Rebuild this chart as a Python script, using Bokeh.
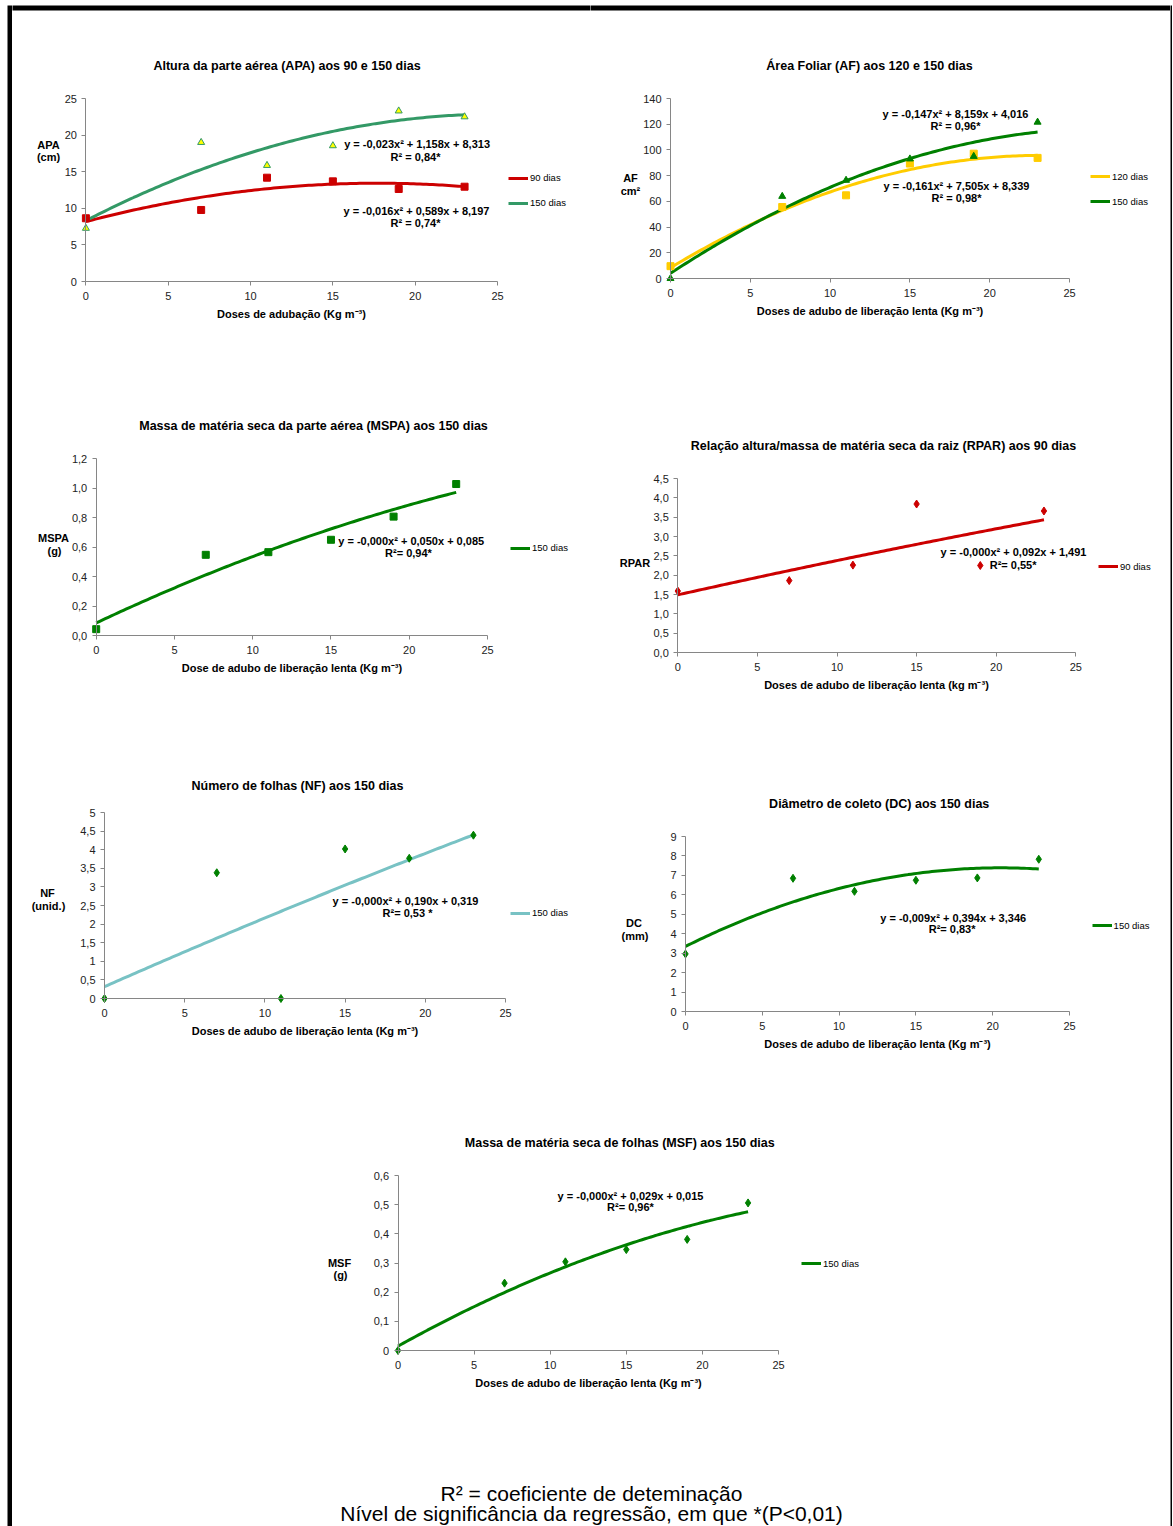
import numpy as np
from bokeh.plotting import figure
from bokeh.models import Range1d, FixedTicker, Label, Legend, LegendItem, Spacer, BoxAnnotation
from bokeh.layouts import row, column
from bokeh.embed import file_html
from bokeh.resources import INLINE

FONT = "Liberation Sans"

# ------------------------------------------------------------------ data
doses = [0, 7, 11, 15, 19, 23]
x_ticks = [0, 5, 10, 15, 20, 25]
x_tick_labels = ["0", "5", "10", "15", "20", "25"]

# Altura da parte aérea (APA)
apa_yticks = [0, 5, 10, 15, 20, 25]
apa_ylabels = ["0", "5", "10", "15", "20", "25"]
apa_90 = [8.64, 9.77, 14.18, 13.68, 12.64, 12.95]
apa_150 = [7.27, 19.00, 15.86, 18.55, 23.30, 22.50]
apa_90_coef = [-0.0167, 0.592, 8.18]
apa_150_coef = [-0.023, 1.158, 8.313]

# Área foliar (AF)
af_yticks = [0, 20, 40, 60, 80, 100, 120, 140]
af_ylabels = ["0", "20", "40", "60", "80", "100", "120", "140"]
af_120 = [9.6, 55.6, 64.7, 89.4, 97.1, 93.8]
af_150 = [0.0, 63.9, 76.4, 93.0, 95.0, 121.6]
af_120_coef = [-0.161, 7.505, 8.339]
af_150_coef = [-0.147, 8.159, 4.016]

# Massa de matéria seca da parte aérea (MSPA)
mspa_yticks = [0.0, 0.2, 0.4, 0.6, 0.8, 1.0, 1.2]
mspa_ylabels = ["0,0", "0,2", "0,4", "0,6", "0,8", "1,0", "1,2"]
mspa_150 = [0.043, 0.547, 0.565, 0.649, 0.806, 1.027]
mspa_coef = [-0.0005, 0.050, 0.085]

# Relação altura/massa seca da raiz (RPAR)
rpar_yticks = [0.0, 0.5, 1.0, 1.5, 2.0, 2.5, 3.0, 3.5, 4.0, 4.5]
rpar_ylabels = ["0,0", "0,5", "1,0", "1,5", "2,0", "2,5", "3,0", "3,5", "4,0", "4,5"]
rpar_90 = [1.59, 1.86, 2.26, 3.84, 2.25, 3.66]
rpar_coef = [-0.00033, 0.092, 1.491]

# Número de folhas (NF)
nf_yticks = [0.0, 0.5, 1.0, 1.5, 2.0, 2.5, 3.0, 3.5, 4.0, 4.5, 5.0]
nf_ylabels = ["0", "0,5", "1", "1,5", "2", "2,5", "3", "3,5", "4", "4,5", "5"]
nf_150 = [0.0, 3.38, 0.0, 4.02, 3.77, 4.39]
nf_coef = [-0.00055, 0.190, 0.319]

# Diâmetro de coleto (DC)
dc_yticks = [0, 1, 2, 3, 4, 5, 6, 7, 8, 9]
dc_ylabels = ["0", "1", "2", "3", "4", "5", "6", "7", "8", "9"]
dc_150 = [2.96, 6.85, 6.18, 6.75, 6.87, 7.83]
dc_coef = [-0.0096, 0.394, 3.346]

# Massa de matéria seca de folhas (MSF)
msf_yticks = [0.0, 0.1, 0.2, 0.3, 0.4, 0.5, 0.6]
msf_ylabels = ["0", "0,1", "0,2", "0,3", "0,4", "0,5", "0,6"]
msf_150 = [0.0, 0.231, 0.304, 0.346, 0.381, 0.506]
msf_coef = [-0.00039, 0.029, 0.015]

# ------------------------------------------------------------------ style
RED = "#CC0000"
TEAL = "#339966"
YELLOW = "#FFCC00"
GREEN = "#008000"
LTEAL = "#78C2C4"
AXIS = "#868686"

xs_fit = np.linspace(0, 23, 120)


def trend(coef):
    a, b, c = coef
    return a * xs_fit ** 2 + b * xs_fit + c


def panel(fig_left, fig_top, fig_w, fig_h, x0, x25, ytop, ybot, ymax,
          yticks, ylabels, xlabel, band=None):
    kx = (x25 - x0) / 25.0
    ky = (ybot - ytop) / float(ymax)
    xr = Range1d(-(x0 - fig_left) / kx, 25 + (fig_left + fig_w - x25) / kx)
    yr = Range1d(-(fig_top + fig_h - ybot) / ky, ymax + (ytop - fig_top) / ky)
    p = figure(width=fig_w, height=fig_h, x_range=xr, y_range=yr, min_border=0,
               toolbar_location=None, output_backend="svg")
    p.title.visible = False
    p.outline_line_color = None
    p.xgrid.visible = False
    p.ygrid.visible = False
    xa = p.xaxis[0]
    ya = p.yaxis[0]
    xa.fixed_location = 0
    ya.fixed_location = 0
    xa.bounds = (0, 25)
    ya.bounds = (0, ymax)
    xa.ticker = FixedTicker(ticks=x_ticks)
    ya.ticker = FixedTicker(ticks=yticks)
    xa.major_label_overrides = dict(zip(x_ticks, x_tick_labels))
    ya.major_label_overrides = dict(zip(yticks, ylabels))
    for ax in (xa, ya):
        ax.axis_line_color = AXIS
        ax.major_tick_line_color = AXIS
        ax.minor_tick_line_color = None
        ax.major_tick_out = 4
        ax.major_tick_in = 0
        ax.major_label_text_font = FONT
        ax.major_label_text_font_size = "11px"
        ax.major_label_text_color = "#222222"
    xa.major_label_standoff = 6
    ya.major_label_standoff = 5
    xa.axis_label = xlabel
    xa.axis_label_text_font = FONT
    xa.axis_label_text_font_size = "11px"
    xa.axis_label_text_font_style = "bold"
    xa.axis_label_text_color = "#000000"
    xa.axis_label_standoff = 5

    if band is not None:
        # black page border along the top edge of this figure
        ext_x = 3.0 / kx
        ext_y = 3.0 / ky
        p.add_layout(BoxAnnotation(left=xr.start - ext_x, right=xr.end + ext_x,
                                   top=yr.end + ext_y, bottom=(ybot - band) / ky,
                                   fill_color="black", fill_alpha=1.0,
                                   line_color=None))

    def conv(px, py):
        return (px - x0) / kx, (ybot - py) / ky

    return p, conv, fig_left, fig_top + fig_h


def put(p, conv, px, py, s, size="11px", bold=True):
    x, y = conv(px, py)
    p.add_layout(Label(x=x, y=y, text=s, text_align="center", text_baseline="middle",
                       text_font=FONT, text_font_size=size,
                       text_font_style="bold" if bold else "normal",
                       text_color="#000000"))


def legend(p, items, fl, fb, lx, centers):
    gh = 12
    spacing = 13
    bottom = centers[-1] + gh / 2.0
    leg = Legend(items=[LegendItem(label=l, renderers=[r]) for l, r in items],
                 location=(lx - fl, fb - bottom), orientation="vertical",
                 padding=0, margin=0, spacing=spacing,
                 glyph_width=20, glyph_height=gh, label_height=gh, label_standoff=2,
                 label_text_font=FONT, label_text_font_size="9.5px",
                 label_text_color="#000000",
                 border_line_color=None, background_fill_alpha=0)
    p.add_layout(leg)


XL = "Doses de adubo de liberação lenta (Kg m⁻³)"

# ---------------- Panel 1: APA
p1, c1, fl1, fb1 = panel(12, 5, 578, 365, 85.4, 497, 98, 281, 25,
                         apa_yticks, apa_ylabels, "Doses de adubação (Kg m⁻³)", band=10)
l1a = p1.line(xs_fit, trend(apa_90_coef), line_color=RED, line_width=3)
l1b = p1.line(xs_fit, trend(apa_150_coef), line_color=TEAL, line_width=3)
p1.scatter(doses, apa_90, marker="square", size=7, fill_color=RED, line_color=RED)
p1.scatter(doses, apa_150, marker="triangle", size=7, fill_color="#FFFF00", line_color=TEAL)
put(p1, c1, 286.5, 65, "Altura da parte aérea (APA) aos 90 e 150 dias", "12.5px")
put(p1, c1, 48, 144, "APA")
put(p1, c1, 48, 156.5, "(cm)")
put(p1, c1, 416.6, 143.7, "y = -0,023x² + 1,158x + 8,313")
put(p1, c1, 415, 156, "R² = 0,84*")
put(p1, c1, 416, 210.7, "y = -0,016x² + 0,589x + 8,197")
put(p1, c1, 415, 222.7, "R² = 0,74*")
legend(p1, [("90 dias", l1a), ("150 dias", l1b)], fl1, fb1, 508, [177.7, 202.7])

# ---------------- Panel 2: AF
p2, c2, fl2, fb2 = panel(590, 5, 580, 365, 670, 1069, 98, 278, 140,
                         af_yticks, af_ylabels, XL, band=10)
l2a = p2.line(xs_fit, trend(af_120_coef), line_color=YELLOW, line_width=3)
l2b = p2.line(xs_fit, trend(af_150_coef), line_color=GREEN, line_width=3)
p2.scatter(doses, af_120, marker="square", size=7, fill_color=YELLOW, line_color=YELLOW)
p2.scatter(doses, af_150, marker="triangle", size=7, fill_color=GREEN, line_color=GREEN)
put(p2, c2, 869, 65, "Área Foliar (AF) aos 120 e 150 dias", "12.5px")
put(p2, c2, 630, 177, "AF")
put(p2, c2, 630, 190, "cm²")
put(p2, c2, 955, 113.3, "y = -0,147x² + 8,159x + 4,016")
put(p2, c2, 955, 125.3, "R² = 0,96*")
put(p2, c2, 956, 185.7, "y = -0,161x² + 7,505x + 8,339")
put(p2, c2, 956, 197, "R² = 0,98*")
legend(p2, [("120 dias", l2a), ("150 dias", l2b)], fl2, fb2, 1090, [176, 201])

# ---------------- Panel 3: MSPA
p3, c3, fl3, fb3 = panel(12, 370, 578, 360, 95.7, 487, 458, 635, 1.2,
                         mspa_yticks, mspa_ylabels,
                         "Dose de adubo de liberação lenta (Kg m⁻³)")
l3 = p3.line(xs_fit, trend(mspa_coef), line_color=GREEN, line_width=3)
p3.scatter(doses, mspa_150, marker="square", size=7, fill_color=GREEN, line_color=GREEN)
put(p3, c3, 313, 425, "Massa de matéria seca da parte aérea (MSPA) aos 150 dias", "12.5px")
put(p3, c3, 53, 537.5, "MSPA")
put(p3, c3, 54, 550, "(g)")
put(p3, c3, 410.7, 540.3, "y = -0,000x² + 0,050x + 0,085")
put(p3, c3, 408, 552.7, "R²= 0,94*")
legend(p3, [("150 dias", l3)], fl3, fb3, 510, [547.7])

# ---------------- Panel 4: RPAR
p4, c4, fl4, fb4 = panel(590, 370, 580, 360, 677.3, 1075.3, 478, 652, 4.5,
                         rpar_yticks, rpar_ylabels,
                         "Doses de adubo de liberação lenta (kg m⁻³)")
l4 = p4.line(xs_fit, trend(rpar_coef), line_color=RED, line_width=3)
p4.scatter(doses, rpar_90, marker="diamond", size=8, fill_color=RED, line_color=RED)
put(p4, c4, 883, 445, "Relação altura/massa de matéria seca da raiz (RPAR) aos 90 dias", "12.5px")
put(p4, c4, 634.5, 562.5, "RPAR")
put(p4, c4, 1013, 551.7, "y = -0,000x² + 0,092x + 1,491")
put(p4, c4, 1012.6, 564, "R²= 0,55*")
legend(p4, [("90 dias", l4)], fl4, fb4, 1098, [566])

# ---------------- Panel 5: NF
p5, c5, fl5, fb5 = panel(12, 730, 578, 360, 104, 505, 812, 998, 5,
                         nf_yticks, nf_ylabels, XL)
l5 = p5.line(xs_fit, trend(nf_coef), line_color=LTEAL, line_width=3)
p5.scatter(doses, nf_150, marker="diamond", size=8, fill_color=GREEN, line_color=GREEN)
put(p5, c5, 297, 785, "Número de folhas (NF) aos 150 dias", "12.5px")
put(p5, c5, 47, 892.5, "NF")
put(p5, c5, 48, 905, "(unid.)")
put(p5, c5, 405, 900.7, "y = -0,000x² + 0,190x + 0,319")
put(p5, c5, 407, 912.7, "R²= 0,53 *")
legend(p5, [("150 dias", l5)], fl5, fb5, 510, [912.7])

# ---------------- Panel 6: DC
p6, c6, fl6, fb6 = panel(590, 730, 580, 360, 685, 1069, 836, 1011, 9,
                         dc_yticks, dc_ylabels, XL)
l6 = p6.line(xs_fit, trend(dc_coef), line_color=GREEN, line_width=3)
p6.scatter(doses, dc_150, marker="diamond", size=8, fill_color=GREEN, line_color=GREEN)
put(p6, c6, 878.7, 803, "Diâmetro de coleto (DC) aos 150 dias", "12.5px")
put(p6, c6, 633.4, 922, "DC")
put(p6, c6, 634.5, 935, "(mm)")
put(p6, c6, 952.7, 917, "y = -0,009x² + 0,394x + 3,346")
put(p6, c6, 951.6, 928.5, "R²= 0,83*")
legend(p6, [("150 dias", l6)], fl6, fb6, 1091.6, [925])

# ---------------- Panel 7: MSF
p7, c7, fl7, fb7 = panel(12, 1090, 1158, 350, 397.5, 778, 1175, 1350, 0.6,
                         msf_yticks, msf_ylabels, XL)
l7 = p7.line(xs_fit, trend(msf_coef), line_color=GREEN, line_width=3)
p7.scatter(doses, msf_150, marker="diamond", size=8, fill_color=GREEN, line_color=GREEN)
put(p7, c7, 621, 1142, "Massa  de matéria seca de folhas (MSF) aos 150 dias", "12.5px")
put(p7, c7, 339, 1262, "MSF")
put(p7, c7, 340, 1274, "(g)")
put(p7, c7, 630, 1195, "y = -0,000x² + 0,029x + 0,015")
put(p7, c7, 630, 1206.7, "R²= 0,96*")
legend(p7, [("150 dias", l7)], fl7, fb7, 801, [1263])

# ---------------- footer
FOOT_TOP, FOOT_H = 1440, 86
foot = figure(width=1158, height=FOOT_H, x_range=Range1d(0, 1158), y_range=Range1d(0, FOOT_H),
              toolbar_location=None, output_backend="svg", min_border=0,
              x_axis_location=None, y_axis_location=None)
foot.title.visible = False
foot.outline_line_color = None
foot.xgrid.visible = False
foot.ygrid.visible = False
foot.add_layout(Label(x=591 - 12, y=FOOT_TOP + FOOT_H - 1493, text="R² = coeficiente de deteminação",
                      text_align="center", text_baseline="middle", text_font=FONT,
                      text_font_size="21px", text_color="#000000"))
foot.add_layout(Label(x=591 - 12, y=FOOT_TOP + FOOT_H - 1513,
                      text="Nível de significância da regressão, em que *(P<0,01)",
                      text_align="center", text_baseline="middle", text_font=FONT,
                      text_font_size="21px", text_color="#000000"))


def strip(w, h):
    s = figure(width=w, height=h, toolbar_location=None, output_backend="svg",
               min_border=0, x_axis_location=None, y_axis_location=None,
               background_fill_color="black", border_fill_color="black")
    s.title.visible = False
    s.outline_line_color = None
    s.xgrid.visible = False
    s.ygrid.visible = False
    return s


H = 1521
content = column(row(p1, p2), row(p3, p4), row(p5, p6), p7, foot)
page = column(Spacer(width=1172, height=5),
              row(Spacer(width=7, height=H), strip(5, H), content, strip(2, H)))

open("out.html", "w").write(file_html(page, INLINE))
